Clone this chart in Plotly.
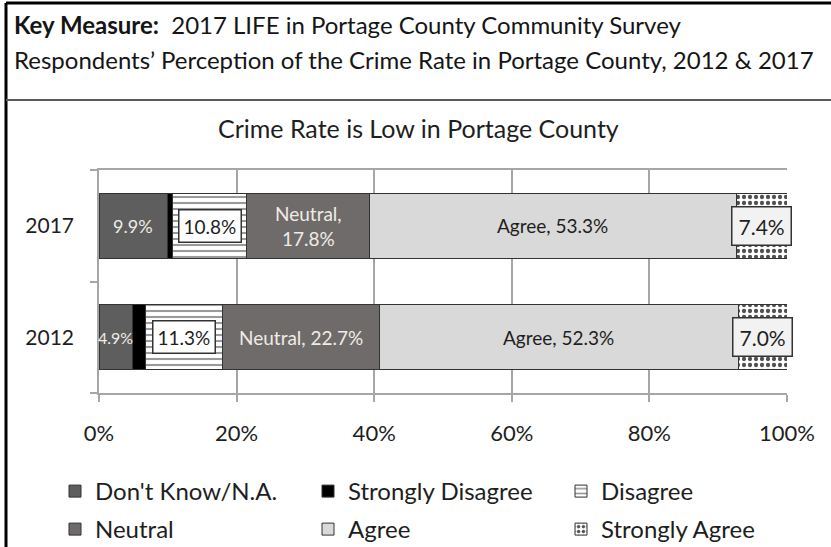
import plotly.graph_objects as go

# survey years (bottom to top) and response categories
years = ["2012", "2017"]
categories = ["Don't Know/N.A.", "Strongly Disagree", "Disagree",
              "Neutral", "Agree", "Strongly Agree"]

# percent of respondents, per category, for [2012, 2017]
dont_know = [4.9, 9.9]
strongly_disagree = [1.8, 0.8]
disagree = [11.3, 10.8]
neutral = [22.7, 17.8]
agree = [52.3, 53.3]
strongly_agree = [7.0, 7.4]

x_ticks = [0, 20, 40, 60, 80, 100]
x_tick_labels = ["0%", "20%", "40%", "60%", "80%", "100%"]

W, H = 831, 547
ML, MR, MT, MB = 99, 44, 170, 154
FONT = "Lato, 'Open Sans', sans-serif"
INK = "#1e1e1e"
LIGHT = "#f0ece4"


def px(x, y):
    # pixel position -> paper coords
    return (x - ML) / (W - ML - MR), (H - MB - y) / (H - MT - MB)


series = [dont_know, strongly_disagree, disagree, neutral, agree, strongly_agree]
styles = [
    dict(color="#5e5e5e"),
    dict(color="#000000"),
    dict(color="#ffffff", pattern=dict(shape="-", fgcolor="#9a9a9a", bgcolor="#ffffff",
                                       size=6, solidity=0.35, fillmode="replace")),
    dict(color="#6f6b6b"),
    dict(color="#d9d9d9"),
    dict(color="#ffffff", pattern=dict(shape=".", fgcolor="#505050", bgcolor="#ffffff",
                                       size=6, solidity=0.4, fillmode="replace")),
]

fig = go.Figure()
for i, (name, vals, st) in enumerate(zip(categories, series, styles)):
    fig.add_trace(go.Bar(
        y=years, x=vals, name=name, orientation="h",
        marker=dict(line=dict(color="#333333", width=1), **st),
        legend="legend" if i < 3 else "legend2",
        hoverinfo="x+name",
    ))

# data labels (y given as category index)
annots = []
for j, yr in enumerate(years):
    start = 0
    starts = []
    for vals in series:
        starts.append(start)
        start += vals[j]
    mid = [s + v[j] / 2 for s, v in zip(starts, series)]
    annots.append(dict(x=mid[0], y=j, text=f"{dont_know[j]:.1f}%", showarrow=False,
                       font=dict(size=16 if dont_know[j] < 6 else 18, color=LIGHT)))
    annots.append(dict(x=mid[2], y=j, text=f"{disagree[j]:.1f}%", showarrow=False,
                       font=dict(size=19, color=INK), bgcolor="#ffffff",
                       bordercolor="#333333", borderwidth=1.5, borderpad=4))
    ntxt = f"Neutral,<br>{neutral[j]:.1f}%" if neutral[j] < 20 else f"Neutral, {neutral[j]:.1f}%"
    annots.append(dict(x=mid[3], y=j, text=ntxt, showarrow=False,
                       font=dict(size=19, color=LIGHT)))
    annots.append(dict(x=mid[4], y=j, text=f"Agree, {agree[j]:.1f}%", showarrow=False,
                       font=dict(size=19, color=INK)))
    annots.append(dict(x=mid[5], y=j, text=f"{strongly_agree[j]:.1f}%", showarrow=False,
                       font=dict(size=21, color=INK), bgcolor="#f2f2f2",
                       bordercolor="#333333", borderwidth=1.5, borderpad=6))

# header and chart title
hx, hy = px(12, 24)
annots.append(dict(xref="paper", yref="paper", x=hx, y=hy, xanchor="left", yanchor="middle",
                   showarrow=False, font=dict(size=24, color="#151515"),
                   text="<b>Key Measure:</b>  2017 LIFE in Portage County Community Survey"))
hx, hy = px(12, 60)
annots.append(dict(xref="paper", yref="paper", x=hx, y=hy, xanchor="left", yanchor="middle",
                   showarrow=False, font=dict(size=24, color="#151515"),
                   text="Respondents\u2019 Perception of the Crime Rate in Portage County, 2012 & 2017"))
tx, ty = px(418, 128)
annots.append(dict(xref="paper", yref="paper", x=tx, y=ty, xanchor="center", yanchor="middle",
                   showarrow=False, font=dict(size=25, color=INK),
                   text="Crime Rate is Low in Portage County"))

# frame lines
x0, y0 = px(6, 3)
x1, y1 = px(831, 547)
ys = px(6, 100)[1]
shapes = [
    dict(type="line", xref="paper", yref="paper", x0=x0, x1=x0, y0=y0, y1=y1,
         line=dict(color="#000000", width=3)),
    dict(type="line", xref="paper", yref="paper", x0=x0, x1=x1, y0=y0, y1=y0,
         line=dict(color="#000000", width=3)),
    dict(type="line", xref="paper", yref="paper", x0=x0, x1=x1, y0=ys, y1=ys,
         line=dict(color="#5a5a5a", width=2)),
]

lx, ly1 = px(55, 469)
ly2 = px(55, 507)[1]
leg = dict(orientation="h", xanchor="left", yanchor="top", traceorder="normal",
           entrywidth=208, entrywidthmode="pixels", itemwidth=30,
           font=dict(size=24, color=INK), bgcolor="rgba(0,0,0,0)")

fig.update_layout(
    width=W, height=H,
    margin=dict(l=ML, r=MR, t=MT, b=MB, autoexpand=False),
    barmode="stack", bargap=0.42,
    paper_bgcolor="white", plot_bgcolor="white",
    font=dict(family=FONT, color=INK, size=18),
    annotations=annots, shapes=shapes,
    legend=dict(x=lx, y=ly1, **leg),
    legend2=dict(x=lx, y=ly2, **leg),
)
fig.update_xaxes(range=[0, 100], tickvals=x_ticks, ticktext=x_tick_labels,
                 showgrid=True, gridcolor="#a6a6a6", gridwidth=1.5,
                 showline=True, linecolor="#a6a6a6", linewidth=1.5, mirror=True,
                 ticks="outside", ticklen=7, tickcolor="#a6a6a6", tickwidth=1.5,
                 ticklabelstandoff=13,
                 tickfont=dict(size=22, color=INK), zeroline=False, fixedrange=True)
fig.update_yaxes(type="category", categoryorder="array", categoryarray=years,
                 range=[-0.5, 1.5],
                 showline=True, linecolor="#a6a6a6", linewidth=1.5,
                 ticks="outside", ticklen=7, tickcolor="#a6a6a6", tickwidth=1.5,
                 tickson="boundaries", ticklabelstandoff=19,
                 tickfont=dict(size=21, color=INK), fixedrange=True)

# the page has a default 8px body margin; drop it so the figure sits at 0,0
fig.write_html("out.html", config={"displayModeBar": False},
               post_script="document.body.style.margin='0';")
